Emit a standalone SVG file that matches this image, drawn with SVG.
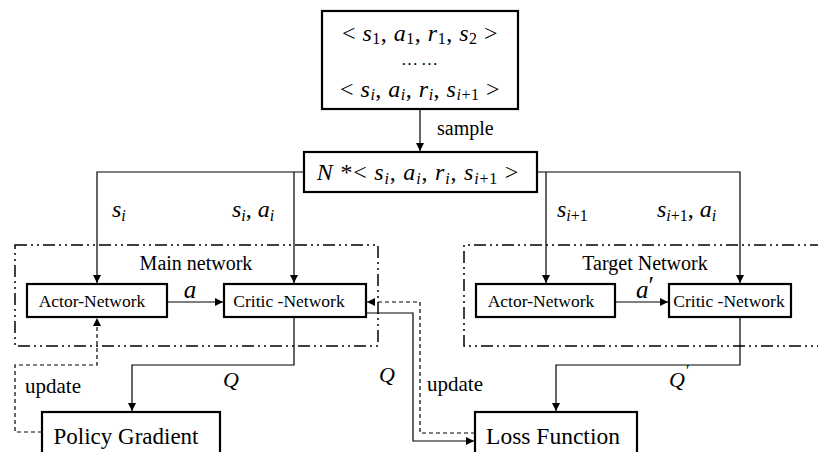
<svg xmlns="http://www.w3.org/2000/svg" width="818" height="452" viewBox="0 0 818 452">
<style>
.box{fill:#fff;stroke:#000;stroke-width:2.2}
.ln{fill:none;stroke:#000;stroke-width:1.2}
.dash{fill:none;stroke:#000;stroke-width:1.2;stroke-dasharray:4 3}
.dd{fill:none;stroke:#000;stroke-width:1.5;stroke-dasharray:12 4 2 4 2 4}
.t{font-family:"Liberation Serif",serif;fill:#000}
.m{font-family:"Liberation Serif",serif;font-style:italic;fill:#000}
.u{font-style:normal}
</style>
<defs>
<marker id="ah" viewBox="0 0 10 10" refX="10" refY="5" markerWidth="8" markerHeight="8" markerUnits="userSpaceOnUse" orient="auto">
<path d="M0,0 L10,5 L0,10 z" fill="#000"/>
</marker>
</defs>
<g id="main-network-group">
<rect class="dd" x="15" y="245" width="363" height="101"/>
<text class="t" x="196" y="270" font-size="20" text-anchor="middle">Main network</text>
</g>
<g id="target-network-group">
<path class="dd" d="M822,245 H464 V346 H822"/>
<text class="t" x="645" y="270" font-size="20" text-anchor="middle">Target Network</text>
</g>
<g id="connectors">
<path class="ln" d="M420,109 V151" marker-end="url(#ah)"/>
<path class="ln" d="M304,172 H97 V283" marker-end="url(#ah)"/>
<path class="ln" d="M294,172 V283" marker-end="url(#ah)"/>
<path class="ln" d="M537,172 H740 V283" marker-end="url(#ah)"/>
<path class="ln" d="M546,172 V283" marker-end="url(#ah)"/>
<path class="ln" d="M167,302 H223" marker-end="url(#ah)"/>
<path class="ln" d="M615,302 H668" marker-end="url(#ah)"/>
<path class="ln" d="M294,317 V365 H132 V411" marker-end="url(#ah)"/>
<path class="ln" d="M740,317 V365 H556 V411" marker-end="url(#ah)"/>
<path class="ln" d="M366,313 H413 V441 H474" marker-end="url(#ah)"/>
<path class="dash" d="M475,433 H420 V302 H367" marker-end="url(#ah)"/>
<path class="dash" d="M42,432 H15 V365 H97 V318" marker-end="url(#ah)"/>
<text class="t" x="437" y="135" font-size="20">sample</text>
<text class="m" x="112" y="217" font-size="24">s<tspan font-size="16" dy="4">i</tspan></text>
<text class="m" x="232" y="217" font-size="24">s<tspan font-size="16" dy="4">i</tspan><tspan class="u" dy="-4">, </tspan>a<tspan font-size="16" dy="4">i</tspan></text>
<text class="m" x="557" y="217" font-size="24">s<tspan font-size="16" dy="4">i</tspan><tspan font-size="16" class="u">+1</tspan></text>
<text class="m" x="657" y="217" font-size="24">s<tspan font-size="16" dy="4">i</tspan><tspan font-size="16" class="u">+1</tspan><tspan class="u" dy="-4">, </tspan>a<tspan font-size="16" dy="4">i</tspan></text>
<text class="m" x="190" y="298" font-size="25" text-anchor="middle">a</text>
<text class="m" x="645" y="298" font-size="25" text-anchor="middle">a<tspan class="u" dy="-4">′</tspan></text>
<text class="m" x="231" y="387" font-size="22" text-anchor="middle">Q</text>
<text class="m" x="387" y="382" font-size="22" text-anchor="middle">Q</text>
<text class="m" x="669" y="387" font-size="22">Q<tspan class="u" font-size="16" dx="1" dy="-11">′</tspan></text>
<text class="t" x="25" y="393" font-size="21">update</text>
<text class="t" x="427" y="391" font-size="21">update</text>
</g>
<g id="replay-buffer">
<rect class="box" x="322" y="11" width="196" height="98"/>
<text class="m" x="420" y="41" font-size="24" letter-spacing="0.5" text-anchor="middle"><tspan class="u">&lt; </tspan>s<tspan font-size="16" dy="3" class="u">1</tspan><tspan class="u" dy="-3">, </tspan>a<tspan font-size="16" dy="3" class="u">1</tspan><tspan class="u" dy="-3">, </tspan>r<tspan font-size="16" dy="3" class="u">1</tspan><tspan class="u" dy="-3">, </tspan>s<tspan font-size="16" dy="3" class="u">2</tspan><tspan class="u" dy="-3"> &gt;</tspan></text>
<text class="t" x="421" y="65" font-size="17" letter-spacing="3" text-anchor="middle">……</text>
<text class="m" x="420" y="97" font-size="24" letter-spacing="0.5" text-anchor="middle"><tspan class="u">&lt; </tspan>s<tspan font-size="16" dy="3">i</tspan><tspan class="u" dy="-3">, </tspan>a<tspan font-size="16" dy="3">i</tspan><tspan class="u" dy="-3">, </tspan>r<tspan font-size="16" dy="3">i</tspan><tspan class="u" dy="-3">, </tspan>s<tspan font-size="16" dy="3">i</tspan><tspan font-size="16" class="u">+1</tspan><tspan class="u" dy="-3"> &gt;</tspan></text>
</g>
<g id="minibatch">
<rect class="box" x="304" y="152" width="233" height="40"/>
<text class="m" x="418" y="180" font-size="24" letter-spacing="0.8" text-anchor="middle">N <tspan class="u">*&lt; </tspan>s<tspan font-size="16" dy="4">i</tspan><tspan class="u" dy="-4">, </tspan>a<tspan font-size="16" dy="4">i</tspan><tspan class="u" dy="-4">, </tspan>r<tspan font-size="16" dy="4">i</tspan><tspan class="u" dy="-4">, </tspan>s<tspan font-size="16" dy="4">i</tspan><tspan font-size="16" class="u">+1</tspan><tspan class="u" dy="-4"> &gt;</tspan></text>
</g>
<g id="main-actor">
<rect class="box" x="27" y="284" width="140" height="33"/>
<text class="t" x="92" y="307" font-size="17.5" text-anchor="middle">Actor-Network</text>
</g>
<g id="main-critic">
<rect class="box" x="224" y="284" width="142" height="33"/>
<text class="t" x="289" y="307" font-size="17.5" text-anchor="middle">Critic -Network</text>
</g>
<g id="target-actor">
<rect class="box" x="476" y="284" width="139" height="33"/>
<text class="t" x="541" y="307" font-size="17.5" text-anchor="middle">Actor-Network</text>
</g>
<g id="target-critic">
<rect class="box" x="669" y="284" width="122" height="33"/>
<text class="t" x="729" y="307" font-size="17.5" text-anchor="middle">Critic -Network</text>
</g>
<g id="policy-gradient">
<rect class="box" x="42" y="412" width="178" height="44"/>
<text class="t" x="126" y="444" font-size="23" text-anchor="middle">Policy Gradient</text>
</g>
<g id="loss-function">
<rect class="box" x="475" y="412" width="162" height="44"/>
<text class="t" x="553" y="444" font-size="23.5" text-anchor="middle">Loss Function</text>
</g>
</svg>
